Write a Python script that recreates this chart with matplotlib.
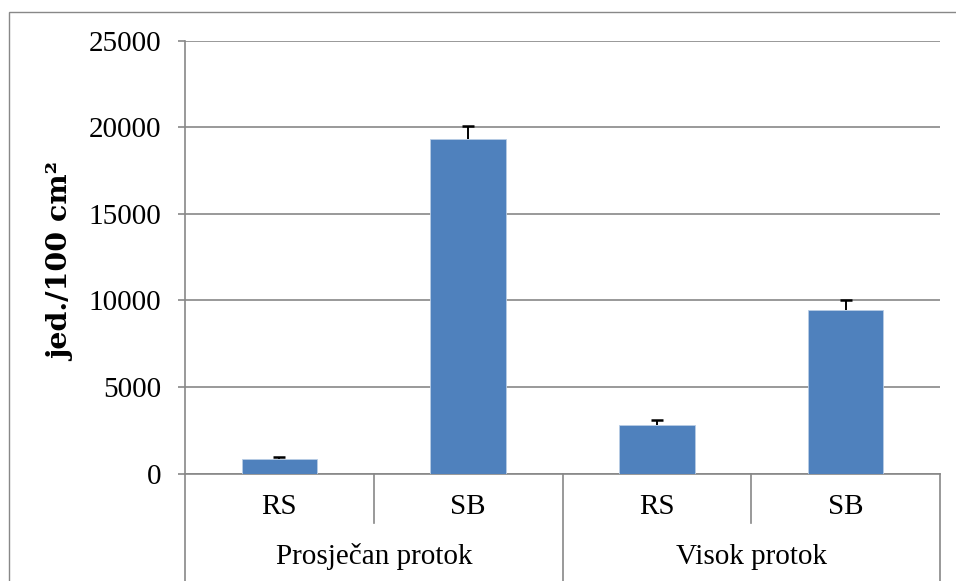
import matplotlib
matplotlib.use("Agg")
import matplotlib.pyplot as plt
from matplotlib.patches import Rectangle
import matplotlib.transforms as mtransforms

# Data
categories = ["RS", "SB", "RS", "SB"]
groups = ["Prosječan protok", "Visok protok"]
values = [850, 19300, 2800, 9430]
errors = [90, 760, 300, 570]
yticks = [0, 5000, 10000, 15000, 20000, 25000]
ylabel = "jed./100 cm²"

W, H = 956, 581
fig = plt.figure(figsize=(W / 100, H / 100), dpi=100)

x0, x1 = 185, 940
y0, y1 = 473.5, 40.7
ax = fig.add_axes([x0 / W, 1 - y0 / H, (x1 - x0) / W, (y0 - y1) / H])

grid_c = "#878787"
bar_c = "#4F81BD"
tick_font = dict(family="Liberation Serif", size=21)

xs = list(range(len(values)))
tops = [v + e for v, e in zip(values, errors)]
ax.bar(xs, values, width=0.4, color=bar_c, edgecolor="#B9CDE5", linewidth=0.6, zorder=3)
ax.errorbar(xs, values, yerr=[[0] * len(errors), errors], fmt="none", ecolor="black",
            elinewidth=1.4, capsize=0, zorder=4)
ax.plot(xs, tops, linestyle="none", marker="_", markersize=9, markeredgewidth=1.8,
        color="black", zorder=4)

ax.set_xlim(-0.5, len(values) - 0.5)
ax.set_ylim(0, 25000)
ax.set_yticks(yticks)
ax.set_yticklabels([str(v) for v in yticks], **tick_font)
ax.yaxis.grid(True, color=grid_c, linewidth=1.2, zorder=0)
ax.set_axisbelow(True)
ax.set_xticks([])
for s in ["top", "right"]:
    ax.spines[s].set_visible(False)
for s in ["left", "bottom"]:
    ax.spines[s].set_color(grid_c)
    ax.spines[s].set_linewidth(1.2)
ax.tick_params(axis="y", length=5, width=1.2, color=grid_c, pad=12)

# Multi-level category axis
trans = mtransforms.blended_transform_factory(ax.transData, ax.transAxes)
plot_h = y0 - y1
short = -(523 - y0) / plot_h
long_ = -(H + 5 - y0) / plot_h
for i in range(len(values) + 1):
    xp = i - 0.5
    yb = long_ if i % 2 == 0 else short
    ax.plot([xp, xp], [0, yb], transform=trans, color=grid_c, linewidth=1.2,
            clip_on=False, zorder=5)
cat_y = -(507 - y0) / plot_h
grp_y = -(557 - y0) / plot_h
for i, c in enumerate(categories):
    ax.text(i, cat_y, c, transform=trans, ha="center", va="center", **tick_font)
for j, g in enumerate(groups):
    ax.text(2 * j + 0.5, grp_y, g, transform=trans, ha="center", va="center", **tick_font)

fig.text(62 / W, 1 - 262 / H, ylabel, rotation=90, ha="center", va="center",
         family="DejaVu Serif", weight="bold", size=20.5)

# Chart area border
fig.patches.append(Rectangle((9 / W, -0.1), 1.2, 1 - 12 / H + 0.1, transform=fig.transFigure,
                             fill=False, edgecolor="#888888", linewidth=1.0))

fig.savefig("out.png", dpi=100)
